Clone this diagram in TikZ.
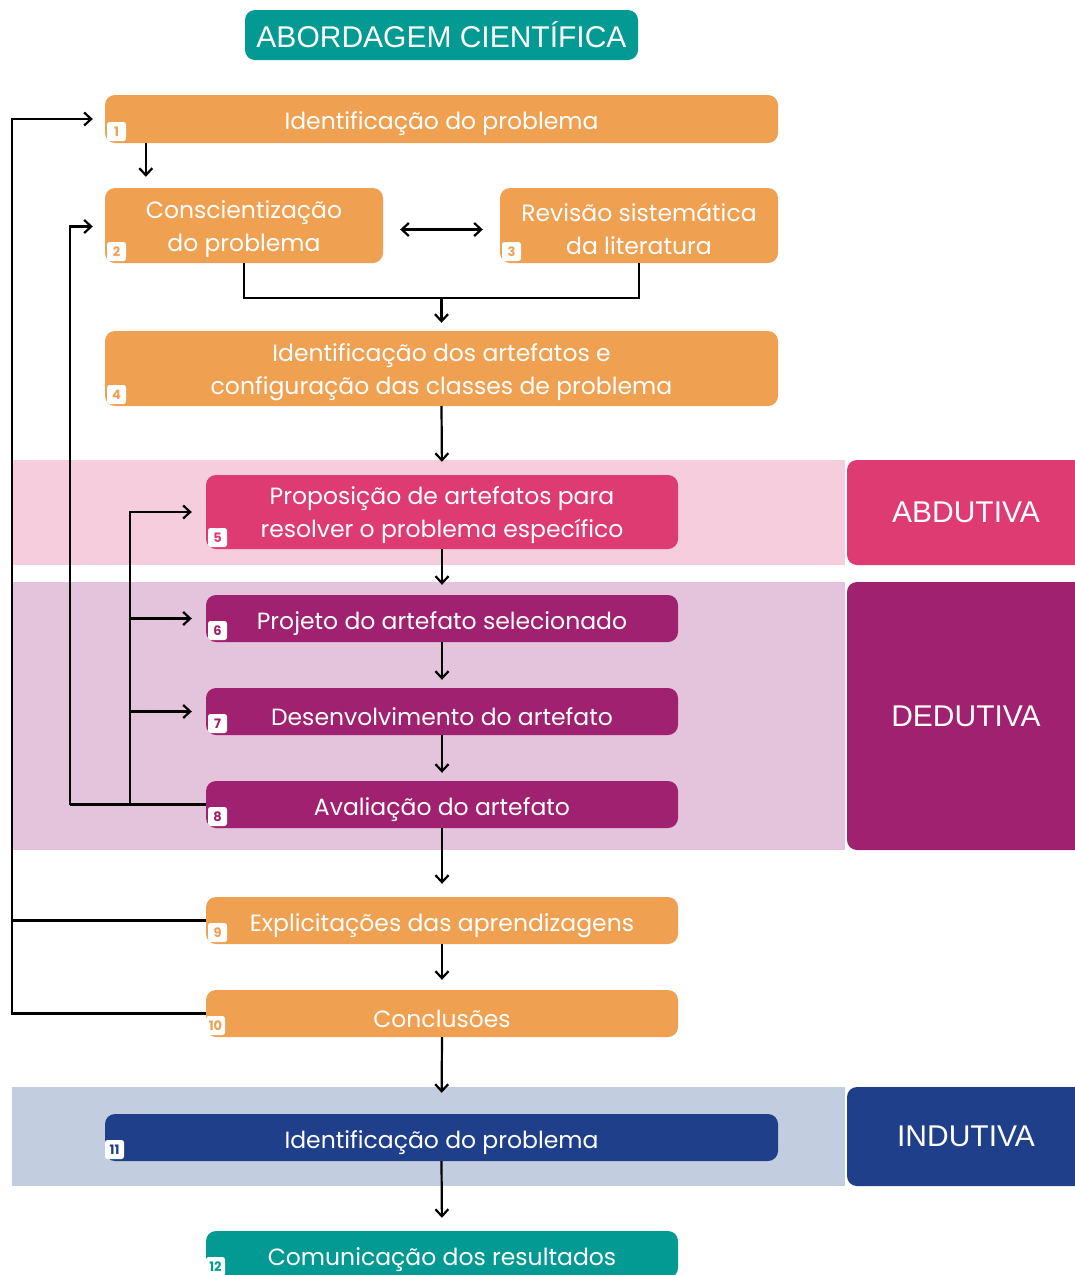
\documentclass[tikz,border=0pt]{standalone}
\usepackage{fontspec}
\setmainfont{Poppins}
\newfontfamily\arialf{Liberation Sans}
\usetikzlibrary{arrows.meta,positioning,calc}
\definecolor{laranja}{HTML}{F0A051}
\definecolor{rosa}{HTML}{DD3B72}
\definecolor{roxo}{HTML}{A0216F}
\definecolor{azul}{HTML}{1F3F8A}
\definecolor{verde}{HTML}{039A93}
\definecolor{rosaclaro}{HTML}{F5CDDC}
\definecolor{roxoclaro}{HTML}{E4C3DC}
\definecolor{azulclaro}{HTML}{C2CDE0}
\tikzset{
    %Define standard arrow tip
    >={Straight Barb[length=7pt,width=13pt,line width=2.2pt]},
    %Define style for boxes
    etapa/.style={
           rectangle,
           rounded corners=10pt,
           fill=laranja,
           text=white,
           inner sep=0pt,
           minimum height=48pt,
           font=\fontsize{23.5}{33}\selectfont,
           execute at begin node={\rule{0pt}{28pt}},
           align=center},
    duas/.style={execute at begin node={\rule{0pt}{58pt}}},
    larga/.style={etapa, minimum width=673pt},
    media/.style={etapa, minimum width=472pt},
    curta/.style={etapa, duas, minimum width=278pt, minimum height=75pt},
    % title box
    titulo/.style={
           rectangle,
           rounded corners=10pt,
           fill=verde,
           text=white,
           minimum width=393pt,
           minimum height=50pt,
           font=\arialf\fontsize{30}{30}\selectfont},
    % number badge
    selo/.style={
           rectangle,
           rounded corners=2.5pt,
           fill=white,
           inner sep=1pt,
           minimum width=19pt,
           minimum height=19pt,
           anchor=south west,
           font=\fontsize{13}{13}\selectfont\bfseries},
    % side labels
    fase/.style={
           rectangle,
           rounded corners=10pt,
           text=white,
           minimum width=238pt,
           font=\arialf\fontsize{30}{30}\selectfont},
    % Define arrow style
    seta/.style={
           ->,
           line width=2.2pt,
           shorten >=11pt},
    linha/.style={line width=2.2pt}
}

\begin{document}
\begin{tikzpicture}[x=1pt,y=-1pt]
\useasboundingbox (0,0) rectangle (1075,1275);
% bands
\fill[rosaclaro] (12,460) rectangle (845,565);
\fill[roxoclaro] (12,582) rectangle (845,850);
\fill[azulclaro] (12,1087) rectangle (845,1186);
\node[fase, fill=rosa, minimum height=105pt] (abd) at (966,512.5) {ABDUTIVA};
\node[fase, fill=roxo, minimum height=268pt] (ded) at (966,716) {DEDUTIVA};
\node[fase, fill=azul, minimum height=99pt] (ind) at (966,1136.5) {INDUTIVA};
% title
\node[titulo] (tit) at (441.5,35) {ABORDAGEM CIENTÍFICA};
% steps
\node[larga] (n1) at (441.5,119) {Identificação do problema};
\node[curta] (n2) at (244,225.5) {Conscientização\\do problema};
\node[curta] (n3) at (639,225.5) {Revisão sistemática\\da literatura};
\node[larga, duas, minimum height=75pt] (n4) at (441.5,368.5) {Identificação dos artefatos e\\configuração das classes de problema};
\node[media, duas, fill=rosa, minimum height=74pt] (n5) at (442,512) {Proposição de artefatos para\\resolver o problema específico};
\node[media, fill=roxo, minimum height=47pt] (n6) at (442,618.5) {Projeto do artefato selecionado};
\node[media, fill=roxo, minimum height=47pt] (n7) at (442,711.5) {Desenvolvimento do artefato};
\node[media, fill=roxo, minimum height=47pt] (n8) at (442,804.5) {Avaliação do artefato};
\node[media, minimum height=47pt] (n9) at (442,920.5) {Explicitações das aprendizagens};
\node[media, minimum height=47pt] (n10) at (442,1013.5) {Conclusões};
\node[larga, fill=azul, minimum height=47pt] (n11) at (441.5,1137.5) {Identificação do problema};
\node[media, fill=verde, minimum height=47pt] (n12) at (442,1254.5) {Comunicação dos resultados};
% badges
\node[selo, text=laranja] (s1) at ([shift={(2,-2)}]n1.south west) {1};
\node[selo, text=laranja] (s2) at ([shift={(2,-2)}]n2.south west) {2};
\node[selo, text=laranja] (s3) at ([shift={(2,-2)}]n3.south west) {3};
\node[selo, text=laranja] (s4) at ([shift={(2,-2)}]n4.south west) {4};
\node[selo, text=rosa] (s5) at ([shift={(2,-2)}]n5.south west) {5};
\node[selo, text=roxo] (s6) at ([shift={(2,-2)}]n6.south west) {6};
\node[selo, text=roxo] (s7) at ([shift={(2,-2)}]n7.south west) {7};
\node[selo, text=roxo] (s8) at ([shift={(2,-2)}]n8.south west) {8};
\node[selo, text=laranja] (s9) at ([shift={(2,-2)}]n9.south west) {9};
\node[selo, text=laranja] (s10) at ([shift={(0,-2)}]n10.south west) {10};
\node[selo, text=azul] (s11) at ([shift={(0,-2)}]n11.south west) {11};
\node[selo, text=verde] (s12) at ([shift={(0,-2)}]n12.south west) {12};
% junctions
\coordinate (m) at (441.5,298);
\coordinate (j1) at (130,804.5);
\coordinate (j2) at (70,804.5);
\coordinate (k) at (12,1013.5);
% main flow
\draw[seta] ([xshift=41pt]n1.south west) -- ([xshift=41pt]n2.north west);
\draw[seta, <->, shorten <=17pt, shorten >=17pt] ([yshift=-4pt]n2.east) -- ([yshift=-4pt]n3.west);
\draw[linha] (n2.south) |- (m) -| (n3.south);
\draw[seta, shorten >=8pt] (m) -- (n4.north);
\draw[seta, shorten >=13pt] (n4.south) -- (n5.north);
\draw[seta, shorten >=10pt] (n5.south) -- (n6.north);
\draw[seta, shorten >=8pt] (n6.south) -- (n7.north);
\draw[seta, shorten >=8pt] (n7.south) -- (n8.north);
\draw[seta, shorten >=13pt] (n8.south) -- (n9.north);
\draw[seta, shorten >=10pt] (n9.south) -- (n10.north);
\draw[seta, shorten >=21pt] (n10.south) -- (n11.north);
\draw[seta, shorten >=13pt] (n11.south) -- (n12.north);
% feedback loops
\draw[linha] (n8.west) -- (j2);
\draw[seta, shorten >=14pt] (j1) |- (n5.west);
\draw[seta, shorten >=14pt] (j1) |- (n6.west);
\draw[seta, shorten >=14pt] (j1) |- (n7.west);
\draw[seta, shorten >=12pt] (j2) |- ([yshift=-1pt]n2.west);
\draw[linha] (n9.west) -- (n9.west -| k);
\draw[seta, shorten >=12pt] (n10.west) -- (k) |- (n1.west);
\end{tikzpicture}
\end{document}
